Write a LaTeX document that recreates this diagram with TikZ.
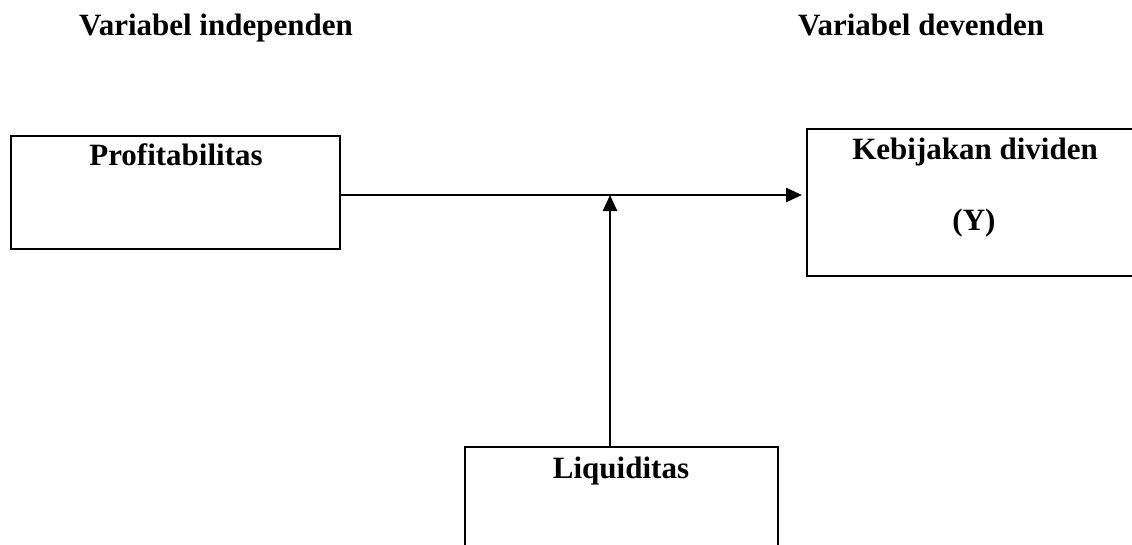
\documentclass[tikz,border=0pt]{standalone}
\usepackage{fontspec}
\setmainfont{Liberation Serif}
\usetikzlibrary{arrows.meta}
\tikzset{
  box/.style={draw, line width=2.4pt, rectangle, inner sep=0pt, outer sep=0pt},
  lbl/.style={anchor=base, inner sep=0pt, font=\bfseries\fontsize{31}{37}\selectfont},
  conn/.style={line width=2.4pt, -{Triangle[length=16pt,width=14pt]}}
}
\begin{document}
\begin{tikzpicture}[x=1pt,y=-1pt]
\useasboundingbox (0,0) rectangle (1132,544);
\clip (0,0) rectangle (1132,544);
% headings
\node[lbl] (hind) at (216,35) {Variabel independen};
\node[lbl] (hdep) at (921,35) {Variabel devenden};
% boxes
\node[box, minimum width=329pt, minimum height=113pt] (prof) at (175.5,192.5) {};
\node[box, minimum width=333pt, minimum height=147pt] (keb) at (973.5,202.5) {};
\node[box, minimum width=313pt, minimum height=123pt] (liq) at (621.5,508.5) {};
% labels
\node[lbl] (tprof) at (176,165) {Profitabilitas};
\node[lbl] (tkeb) at (975,159) {Kebijakan dividen};
\node[lbl] (ty) at (974,230) {(Y)};
\node[lbl] (tliq) at (621,478) {Liquiditas};
% connectors
\coordinate (j) at (610,195);
\draw[conn] (prof.east |- j) -- ([xshift=-5pt]keb.west |- j);
\draw[conn] (liq.north -| j) -- (j);
\end{tikzpicture}
\end{document}
